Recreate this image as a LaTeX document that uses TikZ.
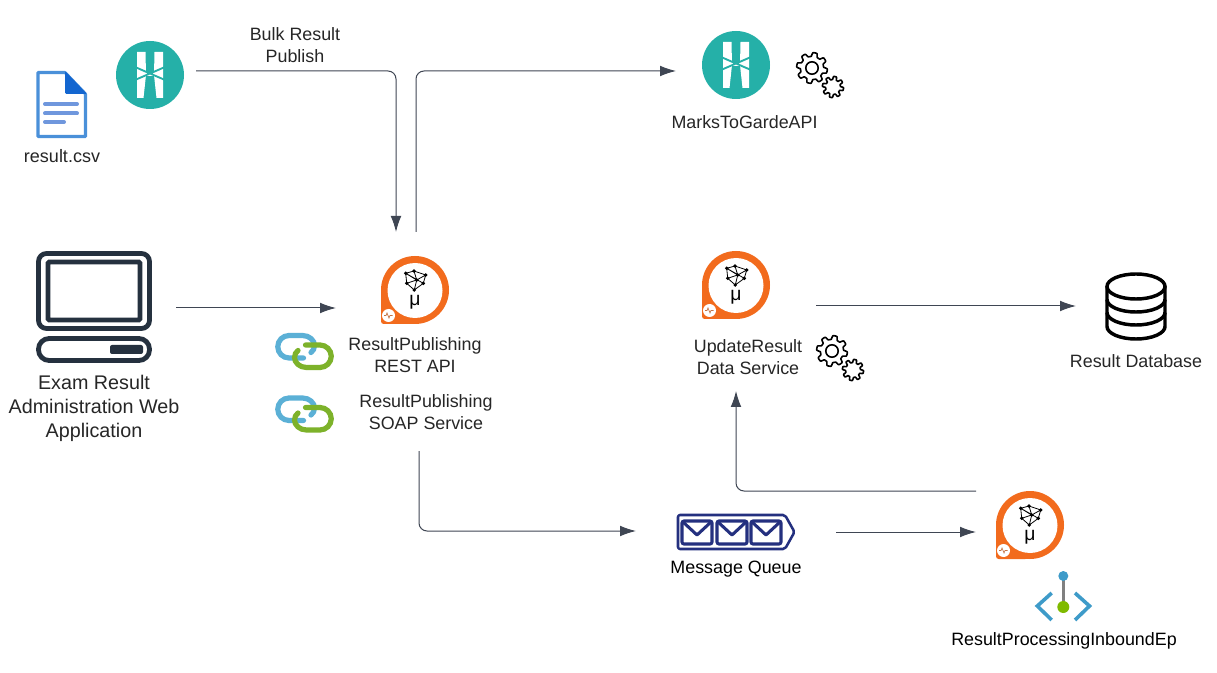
\documentclass[tikz,border=0pt]{standalone}
\usepackage{fontspec}
\setmainfont{Liberation Sans}
\usetikzlibrary{arrows.meta,calc}
\definecolor{arrowc}{HTML}{3F4653}
\definecolor{txt}{HTML}{262626}
\definecolor{teal1}{HTML}{25B0A8}
\definecolor{orange1}{HTML}{F26B1D}
\definecolor{navy}{HTML}{24307F}
\definecolor{slate}{HTML}{25313F}
\definecolor{linkblue}{HTML}{5BB0D6}
\definecolor{linkgreen}{HTML}{7DB22A}
\definecolor{docblue}{HTML}{4A90D9}
\definecolor{docline}{HTML}{6F97DD}
\definecolor{doccorner}{HTML}{1366D0}
\definecolor{azblue}{HTML}{3E9BC9}
\definecolor{azgreen}{HTML}{7FBA00}
\newcommand{\gearoutline}[4]{%
  \draw[black,line width=1.2pt,fill=white,line join=round,shift={(#1,#2)}]
    plot[domain=0:360,samples=145] (\x:{#3+#4*max(-1,min(1,2.2*sin(8*\x)))}) -- cycle;}
\tikzset{
  x=0.75pt,y=-0.75pt,
  hit/.style={inner sep=0pt,outer sep=0pt},
  label text/.style={text=txt,align=center,font=\fontsize{13.4}{16.5}\selectfont,inner sep=0pt},
  big text/.style={text=txt,align=center,font=\fontsize{14.8}{18}\selectfont,inner sep=0pt},
  conn/.style={draw=arrowc,line width=0.75pt,rounded corners=6pt,-{Latex[length=12pt,width=8pt]}},
  kongmark/.pic={
    \fill[white] (-13,-23) -- (-4.5,-23) -- (-4,0) -- (-6.5,23) -- (-13,23) -- cycle;
    \fill[white] (13,-23) -- (4.5,-23) -- (4,0) -- (6.5,23) -- (13,23) -- cycle;
    \fill[white] (-5,-3) -- (0,-1) -- (5,-3) -- (5,1) -- (0,1) -- (-5,1) -- cycle;
    \draw[teal1,line width=1.4pt] (-15,-8) -- (15,5) (-15,5) -- (15,-8);
  },
  mumark/.pic={
    \fill[orange1] (0,0) circle (34);
    \fill[orange1,rounded corners=2pt] (-34,-2) rectangle (-2,34);
    \fill[white] (0,0.5) circle (27.5);
    \draw[black,line width=0.6pt,line join=round]
      (-9.3,-16.7) -- (-1,-19) -- (10.7,-15) -- (8.3,-6.7) -- (-0.7,0) -- (-8.3,-6.7) -- cycle
      (-9.3,-16.7) -- (1.7,-10) -- (10.7,-15) (1.7,-10) -- (-0.7,0) (1.7,-10) -- (-8.3,-6.7)
      (-1,-19) -- (1.7,-10) (-9.3,-16.7) -- (8.3,-6.7);
    \foreach \p in {(-9.3,-16.7),(-1,-19),(10.7,-15),(1.7,-10),(-8.3,-6.7),(-0.7,0),(8.3,-6.7)}
      \fill[black] \p circle (1.9);
    \node[text=black,inner sep=0pt,font=\fontsize{14.5}{16}\selectfont] at (0,12.5) {μ};
    \fill[white] (-26.5,25.5) circle (6.5);
    \draw[orange1!60!gray,line width=0.5pt] (-31,25.5) -- (-29,25.5) -- (-28,23) -- (-26,28) -- (-25,25.5) -- (-22.5,25.5);
  },
  linkmark/.pic={
    \draw[linkblue,line width=3.9pt,line cap=round]
      (-1,6.5) -- (-15.5,6.5) arc[start angle=90,end angle=270,radius=11.25] -- (-2,-16)
      .. controls (5,-16) and (10,-11) .. (10,-6) .. controls (10,-3) and (8.5,-0.5) .. (6.5,1);
    \draw[linkgreen,line width=3.9pt,line cap=round]
      (1,-6.5) -- (15.5,-6.5) arc[start angle=270,end angle=450,radius=11.25] -- (2,16)
      .. controls (-5,16) and (-10,11) .. (-10,6) .. controls (-10,3) and (-8.5,0.5) .. (-6.5,-1);
  },
  gearmark/.pic={
    \gearoutline{0}{0}{13.5}{1.9}
    \draw[black,line width=1.2pt] (0,0) circle (6.2);
    \gearoutline{21}{19}{9}{1.6}
  },
}
\begin{document}
\begin{tikzpicture}
\useasboundingbox (0,0) rectangle (1217,673);
\fill[white] (0,0) rectangle (1217,673);

% entities (icons sit on named nodes)
\node[hit,circle,fill=teal1,minimum size=51pt] (kongbulk) at (150,75) {};
\pic at (kongbulk.center) {kongmark};
\node[hit,circle,fill=teal1,minimum size=51pt] (kongapi) at (736,65) {};
\pic at (kongapi.center) {kongmark};
\node[hit,circle,minimum size=51pt] (rest) at (415,290) {};
\pic at (rest.center) {mumark};
\node[hit,circle,minimum size=51pt] (dataservice) at (736,285) {};
\pic at (dataservice.center) {mumark};
\node[hit,circle,minimum size=51pt] (inbound) at (1030,525) {};
\pic at (inbound.center) {mumark};
\node[hit,minimum width=87pt,minimum height=84pt] (web) at (94,307) {};
\node[hit,minimum width=45pt,minimum height=50pt] (db) at (1136,306) {};
\node[hit,minimum width=88.5pt,minimum height=27pt] (queue) at (736,532) {};

% document icon
\draw[docblue,line width=2.3pt,line join=round,fill=white]
  (65,72.5) -- (38,72.5) -- (38,136.5) -- (85.5,136.5) -- (85.5,94) -- cycle;
\fill[doccorner,rounded corners=1pt] (65,71) -- (87,94) -- (65,94) -- cycle;
\draw[docline,line width=3pt,line cap=round] (45,104) -- (77,104) (45,113.5) -- (77,113.5) (45,122) -- (64,122);

% computer icon
\draw[slate,line width=3.6pt,rounded corners=6pt] (38.5,253.5) rectangle (149.5,328.5);
\draw[slate,line width=3.6pt,rounded corners=1pt] (48,262) rectangle (140,320);
\draw[slate,line width=3.6pt,rounded corners=8pt] (38.5,338.5) rectangle (149.5,360.5);
\fill[slate,rounded corners=1.5pt] (110,345) rectangle (143,354);

% link icons
\pic at (304.5,351.5) {linkmark};
\pic at (304.5,414) {linkmark};

% gears
\pic at (812,68) {gearmark};
\pic at (832,351) {gearmark};

% database
\begin{scope}[black,line width=2.6pt]
\draw (1136,286.5) ellipse[x radius=29,y radius=12.5];
\draw (1107,286.5) -- (1107,326.5) arc[start angle=180,end angle=0,x radius=29,y radius=12.5] -- (1165,286.5);
\draw (1107,299.5) arc[start angle=180,end angle=0,x radius=29,y radius=12.5];
\draw (1107,312.5) arc[start angle=180,end angle=0,x radius=29,y radius=12.5];
\end{scope}

% message queue
\draw[navy,line width=1.9pt,rounded corners=1.5pt,line join=round]
  (678,515) -- (785,515) -- (794.5,532) -- (785,549) -- (678,549) -- cycle;
\foreach \a in {682,717,751}{
  \draw[navy,line width=2.3pt,rounded corners=1.5pt] (\a,521) rectangle ++(30,23);
  \draw[navy,line width=2.3pt,line join=round] (\a+1,522) -- (\a+15,535) -- (\a+29,522);
}

% endpoint icon
\draw[gray,line width=2.4pt] (1063.3,576) -- (1063.3,607);
\fill[azblue] (1063.3,576) circle (5);
\fill[azgreen] (1063.3,607) circle (6);
\draw[azblue,line width=2.7pt] (1051.7,593) -- (1037.3,606) -- (1051.7,620);
\draw[azblue,line width=2.7pt] (1075,593) -- (1089.5,606) -- (1075,620);

% labels
\node[label text] (lblbulk) at (295,45) {Bulk Result\\Publish};
\node[label text,font=\fontsize{13.5}{16}\selectfont] (lblcsv) at (62,156) {result.csv};
\node[big text] (lblweb) at (94,408) {Exam Result\\Administration Web\\Application};
\node[label text] (lblrest) at (415,355) {ResultPublishing\\REST API};
\node[label text] (lblsoap) at (426,412) {ResultPublishing\\SOAP Service};
\node[label text] (lblmarks) at (744.5,122) {MarksToGardeAPI};
\node[label text] (lbldata) at (748,357.5) {UpdateResult\\Data Service};
\node[label text] (lbldb) at (1136,361) {Result Database};
\node[label text,text=black] (lblqueue) at (736,569.5) {Message Queue};
\node[label text,text=black] (lblinbound) at (1064,640.5) {ResultProcessingInboundEp};

% connectors
\draw[conn] ($(kongbulk.east)+(12,-4)$) -| ($(rest.north)+(-19,-24)$);
\draw[conn] ($(rest.north)+(1,-24)$) |- ($(kongapi.west)+(-26,6)$);
\draw[conn,rounded corners=0pt] ($(web.east)+(24,1)$) -- ($(rest.west)+(-45,18)$);
\draw[conn,rounded corners=0pt] ($(dataservice.east)+(46,21)$) -- ($(db.west)+(-30,0)$);
\draw[conn] ($(lblsoap.center)+(-7,39)$) |- ($(queue.west)+(-41,-1)$);
\draw[conn,rounded corners=0pt] ($(queue.east)+(41,0)$) -- ($(inbound.west)+(-20,7)$);
\draw[conn] ($(inbound.west)+(-20,-34)$) -| ($(dataservice.south)+(0,72)$);
\end{tikzpicture}
\end{document}
